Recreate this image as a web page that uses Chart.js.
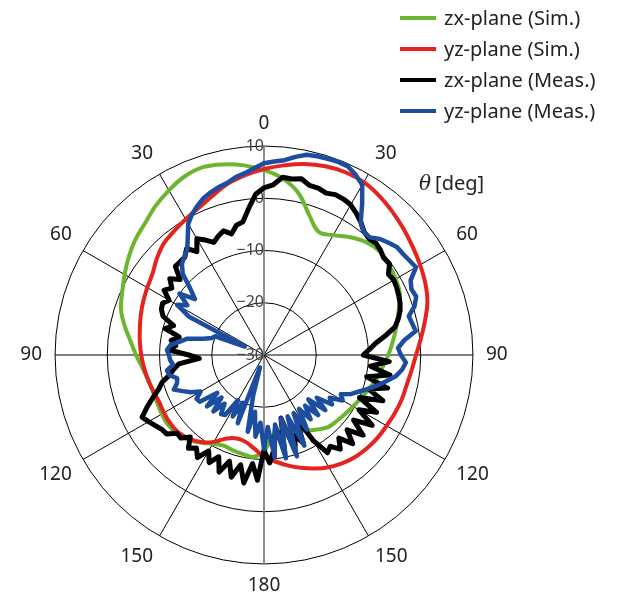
<!DOCTYPE html>
<html>
<head>
<meta charset="utf-8">
<script src="https://cdn.jsdelivr.net/npm/chart.js@4.4.1/dist/chart.umd.min.js"></script>
<style>
  html, body { margin: 0; padding: 0; background: #fff; }
  body { width: 619px; height: 595px; position: relative; overflow: hidden;
         font-family: "Noto Sans", sans-serif; color: #222; }
  #wrap { position: absolute; left: 0; top: 0; width: 619px; height: 595px; }
  .legend { position: absolute; left: 400px; top: 2px; }
  .legend .row { height: 31px; display: flex; align-items: center; font-size: 20px; }
  .legend .sw { width: 36px; height: 4px; margin-right: 8px; }
  .theta { position: absolute; left: 419px; top: 169px; font-size: 20px; }
  .theta i { font-family: "DejaVu Serif", serif; margin-right: 4px; }
</style>
</head>
<body>
<div id="wrap"><canvas id="chart"></canvas></div>
<div class="legend" id="legend"></div>
<div class="theta"><i>θ</i>[deg]</div>
<script>
// angle tick labels, one every 30 deg (clockwise from top)
const angleTicks = ['0', '30', '60', '90', '120', '150', '180', '150', '120', '90', '60', '30'];
const radialTicks = [-30, -20, -10, 0, 10];

// simulated patterns, every 6 deg, in dB
const zxSim = [5.4, 4.0, 1.7, -1.9, -4.2, -3.5, -2.1, -0.9, -0.3, -0.5,
  -0.9, -1.5, -2.9, -4.1, -5.2, -6.2, -7.2, -8.0, -8.9, -9.7,
  -10.3, -10.8, -11.2, -11.5, -12.4, -13.3, -14.1, -14.7, -15.0, -14.3,
  -11.6, -10.4, -10.6, -10.8, -11.0, -10.4, -9.3, -8.2, -7.6, -7.3,
  -7.4, -7.6, -7.6, -7.3, -6.6, -5.5, -4.3, -2.7, -1.2, -0.3,
  0.8, 2.0, 3.1, 4.0, 5.3, 6.4, 7.4, 7.8, 7.3, 6.5];
const yzSim = [5.6, 6.5, 7.4, 8.0, 8.3, 8.2, 7.6, 6.8, 6.0, 5.2,
  4.5, 3.8, 2.9, 1.5, 0.2, -0.9, -1.6, -2.1, -2.3, -2.6,
  -2.9, -3.1, -3.4, -3.8, -4.4, -5.2, -6.2, -7.3, -8.4, -9.5,
  -10.5, -12.0, -13.0, -13.2, -12.5, -10.8, -9.4, -8.5, -7.9, -7.8,
  -7.9, -8.0, -7.7, -7.3, -6.9, -6.5, -6.1, -5.7, -5.2, -4.7,
  -4.2, -3.6, -2.4, -1.3, -0.7, 0.0, 0.8, 2.0, 3.5, 4.6];

// measured patterns, every 3 deg, in dB
const zxMeas = [2.0, 2.6, 4.2, 4.1, 4.5, 3.6, 3.6, 3.2, 3.6, 3.5,
  3.2, 2.4, 1.5, 0.4, 0.0, 0.3, 0.0, -0.5, -0.3, -1.6,
  -1.3, -1.5, -1.8, -2.1, -2.6, -3.4, -4.4, -6.5, -8.5, -9.8,
  -11.0, -6.0, -9.5, -5.6, -9.9, -5.5, -9.0, -5.6, -10.0, -5.8,
  -9.0, -5.3, -8.8, -5.6, -8.6, -6.0, -8.6, -6.8, -8.4, -7.7,
  -11.0, -16.5, -11.5, -13.5, -10.7, -17.5, -11.0, -16.0, -11.8, -9.3,
  -11.8, -6.0, -9.1, -5.2, -8.5, -5.8, -8.6, -6.0, -8.7, -6.9,
  -8.8, -6.6, -8.0, -7.0, -8.9, -7.5, -7.6, -6.0, -5.8, -5.2,
  -4.5, -3.8, -5.5, -7.2, -8.8, -9.8, -11.5, -12.5, -13.6, -17.6,
  -15.6, -11.8, -13.0, -12.0, -13.4, -10.4, -11.8, -9.3, -8.5, -8.2,
  -9.0, -7.2, -8.2, -6.8, -8.4, -6.0, -6.0, -5.9, -4.8, -6.4,
  -4.3, -5.3, -6.4, -5.6, -5.0, -6.0, -4.6, -4.2, -1.8, 0.8];
const yzMeas = [6.7, 7.1, 7.5, 8.4, 9.2, 9.4, 9.5, 9.6, 9.5, 8.7,
  7.6, 4.5, 1.5, 0.3, 0.3, 1.4, 2.1, 2.8, 2.9, 3.2,
  3.6, 1.5, 0.9, 1.2, 0.3, -1.3, -1.0, -0.6, -3.0, -4.3,
  -3.8, -2.8, -3.4, -4.4, -6.0, -7.5, -9.0, -10.5, -11.7, -13.5,
  -12.6, -15.0, -13.9, -17.0, -14.2, -18.0, -14.5, -17.5, -14.8, -17.7,
  -13.5, -17.5, -11.0, -17.4, -9.6, -17.4, -9.8, -16.5, -10.3, -16.2,
  -12.0, -17.0, -14.3, -19.0, -15.0, -22.0, -27.5, -16.0, -20.0, -16.8,
  -20.0, -16.3, -16.0, -18.0, -15.5, -18.5, -15.3, -18.5, -14.8, -14.6,
  -16.0, -14.3, -13.0, -11.5, -12.5, -12.8, -11.5, -11.2, -12.5, -12.0,
  -11.8, -11.4, -12.0, -13.7, -15.0, -18.0, -19.5, -20.0, -26.0, -14.0,
  -10.8, -12.5, -10.0, -13.0, -11.0, -8.0, -6.5, -5.8, -5.0, -3.2,
  -1.0, 0.3, 1.3, 2.2, 2.8, 3.3, 3.7, 4.5, 5.0, 5.8];

const seriesNames = ['zx-plane (Sim.)', 'yz-plane (Sim.)', 'zx-plane (Meas.)', 'yz-plane (Meas.)'];
const seriesColors = ['#6cb52f', '#e5231f', '#000000', '#1d4d9f'];

const STEPS = 120; // 3 deg per label
const labels = [];
for (let i = 0; i < STEPS; i++) {
  labels.push(i % 10 === 0 ? angleTicks[i / 10] : '');
}

// sims are every other label, gaps bridged by the line
function spread(values) {
  const out = [];
  for (let i = 0; i < STEPS; i++) out.push(i % 2 === 0 ? values[i / 2] : null);
  return out;
}

function fmtTick(v) {
  const s = v < 0 ? '\u2212' + Math.abs(v) : String(v);
  // pad so the text sits left of the axis line
  return s + '\u2007'.repeat(s.length);
}

const allData = [spread(zxSim), spread(yzSim), zxMeas, yzMeas];
const widths = [4, 4, 5, 4.5];
const drawOrder = [4, 3, 2, 1];

const datasets = seriesNames.map(function(name, k) {
  return {
    label: name,
    data: allData[k],
    borderColor: seriesColors[k],
    backgroundColor: seriesColors[k],
    borderWidth: widths[k],
    pointRadius: 0,
    fill: false,
    spanGaps: true,
    tension: k < 2 ? 0.4 : 0,
    borderJoinStyle: 'round',
    order: drawOrder[k]
  };
});

// html legend
const legend = document.getElementById('legend');
seriesNames.forEach(function(name, k) {
  const row = document.createElement('div');
  row.className = 'row';
  row.innerHTML = '<span class="sw" style="background:' + seriesColors[k] + '"></span><span>' + name + '</span>';
  legend.appendChild(row);
});

new Chart(document.getElementById('chart'), {
  type: 'radar',
  data: { labels: labels, datasets: datasets },
  options: {
    responsive: true,
    maintainAspectRatio: false,
    animation: false,
    layout: { padding: { left: 0, right: 91, top: 115, bottom: 0 } },
    plugins: { legend: { display: false }, tooltip: { enabled: false } },
    scales: {
      r: {
        min: radialTicks[0],
        max: radialTicks[radialTicks.length - 1],
        afterBuildTicks: function(scale) {
          scale.ticks = radialTicks.map(v => ({ value: v }));
        },
        grid: { circular: true, color: '#000', lineWidth: 1 },
        angleLines: {
          color: function(ctx) {
            if (ctx.index % 10 !== 0) return 'rgba(0,0,0,0)';
            return ctx.index % 60 === 0 ? '#808080' : '#000';
          },
          lineWidth: function(ctx) { return ctx.index % 60 === 0 ? 1.8 : 1; }
        },
        ticks: {
          showLabelBackdrop: false,
          backdropPadding: 0,
          color: '#444',
          font: { family: '"Noto Sans", sans-serif', size: 16 },
          callback: fmtTick
        },
        pointLabels: {
          padding: 5,
          color: '#222',
          font: { family: '"Noto Sans", sans-serif', size: 19, lineHeight: 0.95 }
        }
      }
    }
  }
});
</script>
</body>
</html>
